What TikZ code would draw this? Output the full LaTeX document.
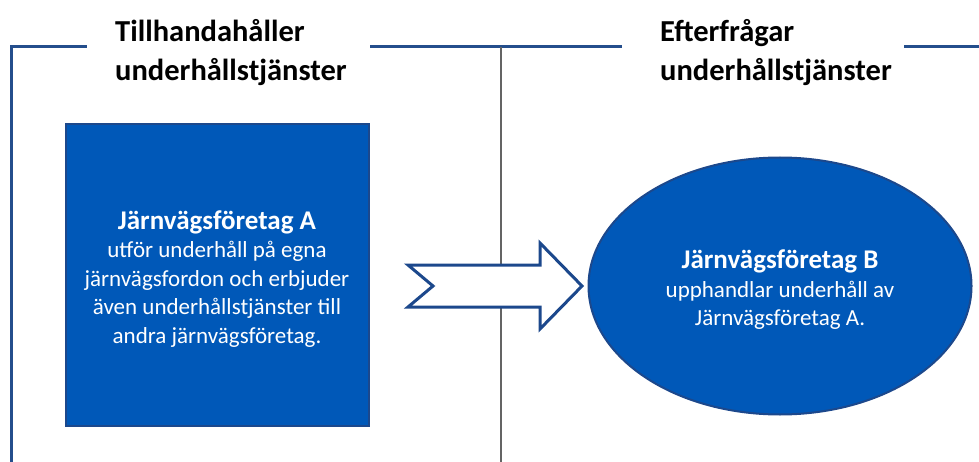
\documentclass[tikz,border=0pt]{standalone}
\usepackage{fontspec}
\setmainfont{Carlito}
\usetikzlibrary{shapes.geometric}
\definecolor{boxblue}{RGB}{0,88,184}
\definecolor{edgeblue}{RGB}{28,72,140}
\definecolor{frameblue}{RGB}{36,78,140}
\definecolor{divgray}{RGB}{100,100,100}
\newcommand\myheadfont{\fontsize{27}{30}\selectfont\bfseries}
\tikzset{
  frame/.style={draw=frameblue, line width=3pt},
  title/.style={font=\fontsize{30.5}{39}\selectfont\bfseries, align=left, anchor=west, inner sep=0pt},
  bodytext/.style={text=white, font=\fontsize{23}{28.5}\selectfont, align=center},
}
\begin{document}
\begin{tikzpicture}[x=1pt,y=-1pt]
\useasboundingbox (0,0) rectangle (979,462);
% frame
\draw[frame] (11.5,463) -- (11.5,47) -- (87,47);
\draw[frame] (370,47) -- (622,47);
\draw[frame] (904,47) -- (981,47);
\draw[draw=divgray, line width=1.2pt] (501,47) -- (501,463);
% titles
\node[title] (t1) at (115,53) {Tillhandahåller\\underhållstjänster};
\node[title] (t2) at (660,53) {Efterfrågar\\underhållstjänster};
% square
\node[draw=edgeblue, fill=boxblue, line width=2pt, minimum width=303pt, minimum height=302pt, inner sep=0pt] (a) at (217,275) {};
\node[bodytext] (at) at (217,279) {{\myheadfont Järnvägsföretag A}\\utför underhåll på egna\\järnvägsfordon och erbjuder\\även underhållstjänster till\\andra järnvägsföretag.};
% ellipse
\node[ellipse, draw=edgeblue, fill=boxblue, line width=2pt, minimum width=383pt, minimum height=257pt, inner sep=0pt] (b) at (780,286) {};
\node[bodytext] (bt) at (780,290) {{\myheadfont Järnvägsföretag B}\\upphandlar underhåll av\\Järnvägsföretag A.};
% block arrow
\draw[draw=edgeblue, fill=white, line width=3pt, line join=miter]
  (408,265) -- (540,265) -- (540,243) -- (582,286) -- (540,329) -- (540,307) -- (408,307) -- (433,286) -- cycle;
\end{tikzpicture}
\end{document}
